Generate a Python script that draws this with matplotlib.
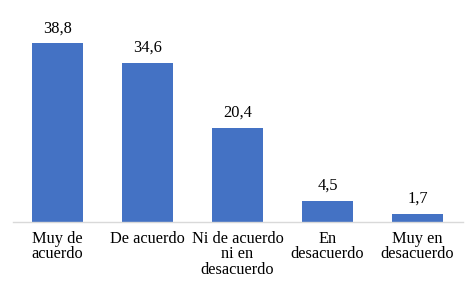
import matplotlib
matplotlib.use("Agg")
import matplotlib.pyplot as plt

categories = ["Muy de\nacuerdo", "De acuerdo", "Ni de acuerdo\nni en\ndesacuerdo",
              "En\ndesacuerdo", "Muy en\ndesacuerdo"]
values = [38.8, 34.6, 20.4, 4.5, 1.7]
labels = ["38,8", "34,6", "20,4", "4,5", "1,7"]

plt.rcParams['font.family'] = ['Liberation Serif', 'DejaVu Serif']

W, H = 476, 285
fig = plt.figure(figsize=(W / 100, H / 100), dpi=100)
# axes placed in pixel coords: x 12.5..462.5, baseline at y=221.7 from top
ax = fig.add_axes([12.5 / W, (H - 221.7) / H, 450 / W, 207 / H])

x = range(len(values))
bars = ax.bar(x, values, width=0.567, color="#4472C4", zorder=2)
ax.set_xlim(-0.5, 4.5)
ax.set_ylim(0, 45)

for xi, v, lab in zip(x, values, labels):
    ax.annotate(lab, (xi, v), xytext=(0, 5), textcoords="offset points",
                ha="center", va="bottom", fontsize=11.8, color="black")

for s in ["top", "right", "left"]:
    ax.spines[s].set_visible(False)
ax.spines["bottom"].set_color("#D9D9D9")
ax.spines["bottom"].set_linewidth(1)
ax.set_yticks([])
ax.set_xticks(list(x))
ax.set_xticklabels(categories, fontsize=11.8, linespacing=0.92, va="top")
ax.tick_params(axis="x", length=0, pad=7)

fig.savefig("out.png", dpi=100)
